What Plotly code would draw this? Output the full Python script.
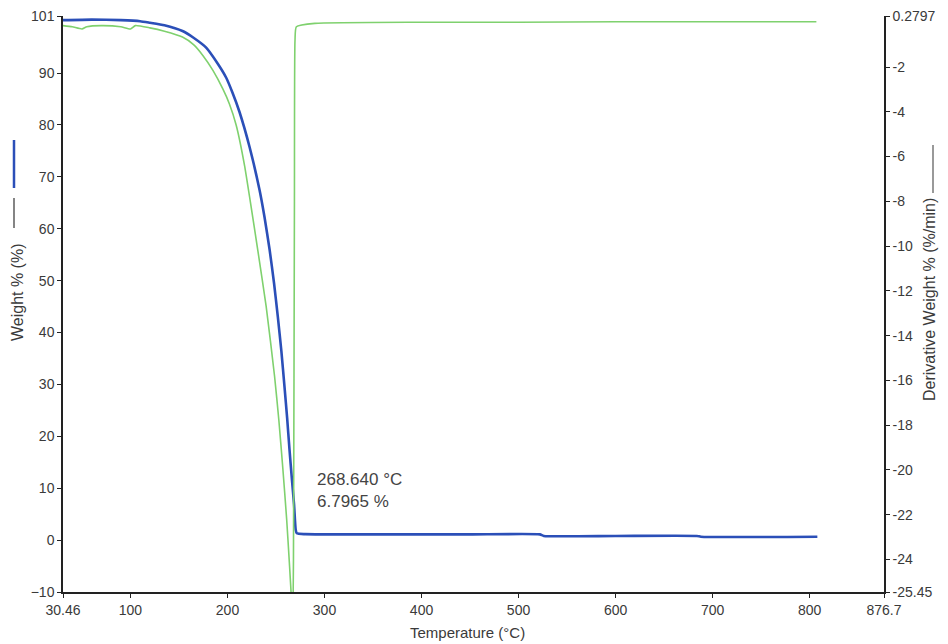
import plotly.graph_objects as go

# Weight % curve (blue), left axis
weight_temp = [30.46, 60, 90, 110, 120, 135, 153.6, 165, 178, 190, 198.7, 205, 212.4,
               222.7, 233, 238.2, 243.4, 248, 251.9, 255.5, 258.8, 261.5, 263.9, 266.5,
               268.64, 270.3, 271.5, 280, 350, 450, 522, 526, 600, 684, 688, 808]
weight_pct = [100.2, 100.3, 100.2, 100.0, 99.7, 99.2, 98.1, 96.8, 94.9, 91.8, 89.1, 86.3, 82.5,
              75.8, 67.5, 62.2, 56.0, 49.5, 43.0, 36.5, 29.5, 23.5, 17.5, 11.5,
              6.8, 2.0, 1.3, 1.15, 1.1, 1.1, 1.1, 0.8, 0.8, 0.8, 0.65, 0.65]

# Derivative weight curve (green), right axis
deriv_temp = [30.46, 40, 50, 55, 70, 90, 100, 105, 120, 135, 153.6, 165, 174.6, 185, 195.2,
              202, 209, 217.6, 223.5, 231.3, 239.9, 248.5, 253, 257, 261, 264, 266,
              267.3, 268, 269, 269.6, 271, 290, 400, 500, 600, 700, 807]
deriv_val = [-0.15, -0.2, -0.3, -0.2, -0.15, -0.2, -0.3, -0.15, -0.25, -0.4, -0.66, -1.0, -1.48,
             -2.15, -2.98, -3.65, -4.6, -6.4, -8.0, -10.2, -12.7, -15.8, -17.8, -19.9, -22.2,
             -24.3, -25.8, -26.8, -24.0, -8.0, -0.8, -0.2, -0.05, 0.0, 0.0, 0.02, 0.02, 0.02]

x_ticks = [30.46, 100, 200, 300, 400, 500, 600, 700, 800, 876.7]
x_ticktext = ["30.46", "100", "200", "300", "400", "500", "600", "700", "800", "876.7"]
y_ticks = [101, 90, 80, 70, 60, 50, 40, 30, 20, 10, 0, -10]
y2_ticks = [0.2797, -2, -4, -6, -8, -10, -12, -14, -16, -18, -20, -22, -24, -25.45]
y2_ticktext = ["0.2797", "-2", "-4", "-6", "-8", "-10", "-12", "-14", "-16", "-18", "-20",
               "-22", "-24", "-25.45"]

annot_temp = 268.640
annot_weight = 6.7965

fig = go.Figure()
fig.add_trace(go.Scatter(x=deriv_temp, y=deriv_val, yaxis="y2", mode="lines",
                         line=dict(color="#7fd16e", width=1.6, shape="spline", smoothing=0.5),
                         showlegend=False))
fig.add_trace(go.Scatter(x=weight_temp, y=weight_pct, mode="lines",
                         line=dict(color="#2b4fb8", width=2.6, shape="spline", smoothing=0.5),
                         showlegend=False))

font_col = "#3a3a3a"
fam = "Liberation Sans, Arial, sans-serif"

# the page has an 8px body margin: figure is offset by (8, 8)
OFF = 8
W, H = 948 - OFF, 644 - OFF
L, R, T, B = 63 - OFF, W - (884 - OFF), 16 - OFF, H - (592 - OFF)

axis_common = dict(showgrid=False, zeroline=False, showline=True, linecolor="#222",
                   linewidth=1.5, ticks="outside", ticklen=4, tickcolor="#222",
                   tickfont=dict(size=14, color=font_col), automargin=False,
                   ticklabeloverflow="allow")

fig.update_layout(
    width=W, height=H,
    margin=dict(l=L, r=R, t=T, b=B, autoexpand=False),
    paper_bgcolor="white", plot_bgcolor="white",
    font=dict(family=fam, size=14, color=font_col),
    xaxis=dict(range=[30.46, 876.7], tickvals=x_ticks, ticktext=x_ticktext, **axis_common),
    yaxis=dict(range=[-10, 101], tickvals=y_ticks, **axis_common),
    yaxis2=dict(range=[-25.45, 0.2797], tickvals=y2_ticks, ticktext=y2_ticktext,
                overlaying="y", side="right", **axis_common),
    showlegend=False,
)

PW = 884 - 63
PH = 592 - 16

def py(pix):
    return (592 - pix) / PH

def px(pix):
    return (pix - 63) / PW

title_kw = dict(xref="paper", yref="paper", showarrow=False,
                xanchor="center", yanchor="middle")
fig.add_annotation(x=px(467), y=py(632), text="Temperature (°C)",
                   font=dict(size=15, color=font_col), **title_kw)
fig.add_annotation(x=px(17), y=py(292), text="Weight % (%)", textangle=-90,
                   font=dict(size=16, color=font_col), **title_kw)
fig.add_annotation(x=px(929), y=py(300), text="Derivative Weight % (%/min)", textangle=-90,
                   font=dict(size=16, color=font_col), **title_kw)
fig.add_annotation(x=px(315), y=py(490), xref="paper", yref="paper",
                   text=f"{annot_temp:.3f} °C<br>{annot_weight:.4f} %",
                   showarrow=False, xanchor="left", yanchor="middle", align="left",
                   font=dict(size=17, color="#444"))

# axis-title line indicators
fig.add_shape(type="line", xref="paper", yref="paper", x0=px(14), x1=px(14),
              y0=py(140), y1=py(188), line=dict(color="#2b4fb8", width=2.5))
fig.add_shape(type="line", xref="paper", yref="paper", x0=px(14), x1=px(14),
              y0=py(198), y1=py(228), line=dict(color="#333", width=1.2))
fig.add_shape(type="line", xref="paper", yref="paper", x0=px(933), x1=px(933),
              y0=py(145), y1=py(193), line=dict(color="#555", width=1.2))

fig.write_html("out.html")
